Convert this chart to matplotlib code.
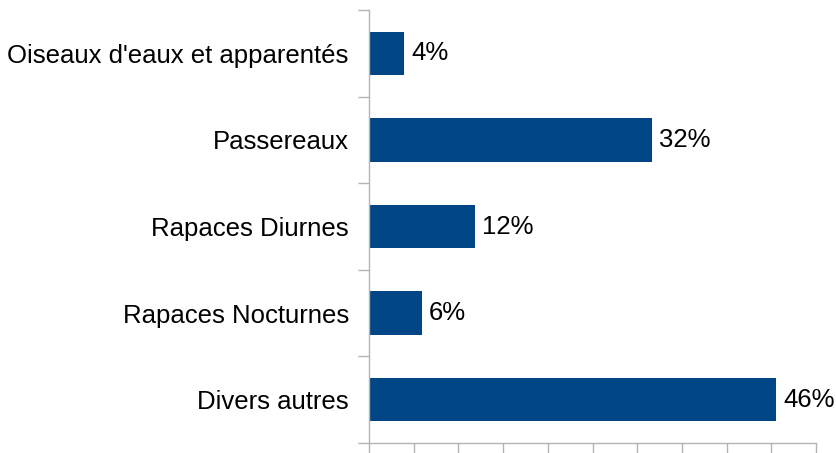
import numpy as np
import matplotlib
matplotlib.use("Agg")
import matplotlib.pyplot as plt
from matplotlib.ticker import MultipleLocator, FixedLocator, NullFormatter

plt.rcParams['font.family'] = ['Liberation Sans', 'DejaVu Sans']

categories = ["Oiseaux d'eaux et apparentés", "Passereaux", "Rapaces Diurnes",
              "Rapaces Nocturnes", "Divers autres"]
values = [0.04, 0.32, 0.12, 0.06, 0.46]
labels = ["4%", "32%", "12%", "6%", "46%"]

fig = plt.figure(figsize=(8.37, 4.53), dpi=100)
ax = fig.add_axes([369 / 837, 10 / 453, 447 / 837, 433 / 453])

y = np.arange(len(categories))
ax.barh(y, values, height=0.5, color='#004586')

for yi, v, lab in zip(y, values, labels):
    ax.annotate(lab, (v, yi), xytext=(5, 0), textcoords='offset points',
                va='center', ha='left', fontsize=18.5, annotation_clip=False)

ax.set_xlim(0, 0.505)
ax.set_ylim(len(categories) - 0.5, -0.5)

ax.xaxis.set_major_locator(FixedLocator(np.linspace(0, 0.505, 11)))
ax.xaxis.set_major_formatter(NullFormatter())
ax.set_yticks(y)
ax.set_yticklabels(categories, fontsize=18.5)
ax.yaxis.set_minor_locator(FixedLocator(np.arange(-0.5, len(categories), 1.0)))

ax.tick_params(axis='y', which='major', length=0, pad=14.5)
ax.tick_params(axis='y', which='minor', length=8, color='#b3b3b3', width=1)
ax.tick_params(axis='x', which='major', length=8, color='#b3b3b3', width=1)

for side in ['top', 'right']:
    ax.spines[side].set_visible(False)
for side in ['left', 'bottom']:
    ax.spines[side].set_color('#b3b3b3')
    ax.spines[side].set_linewidth(1)

fig.savefig("out.png", dpi=100)
